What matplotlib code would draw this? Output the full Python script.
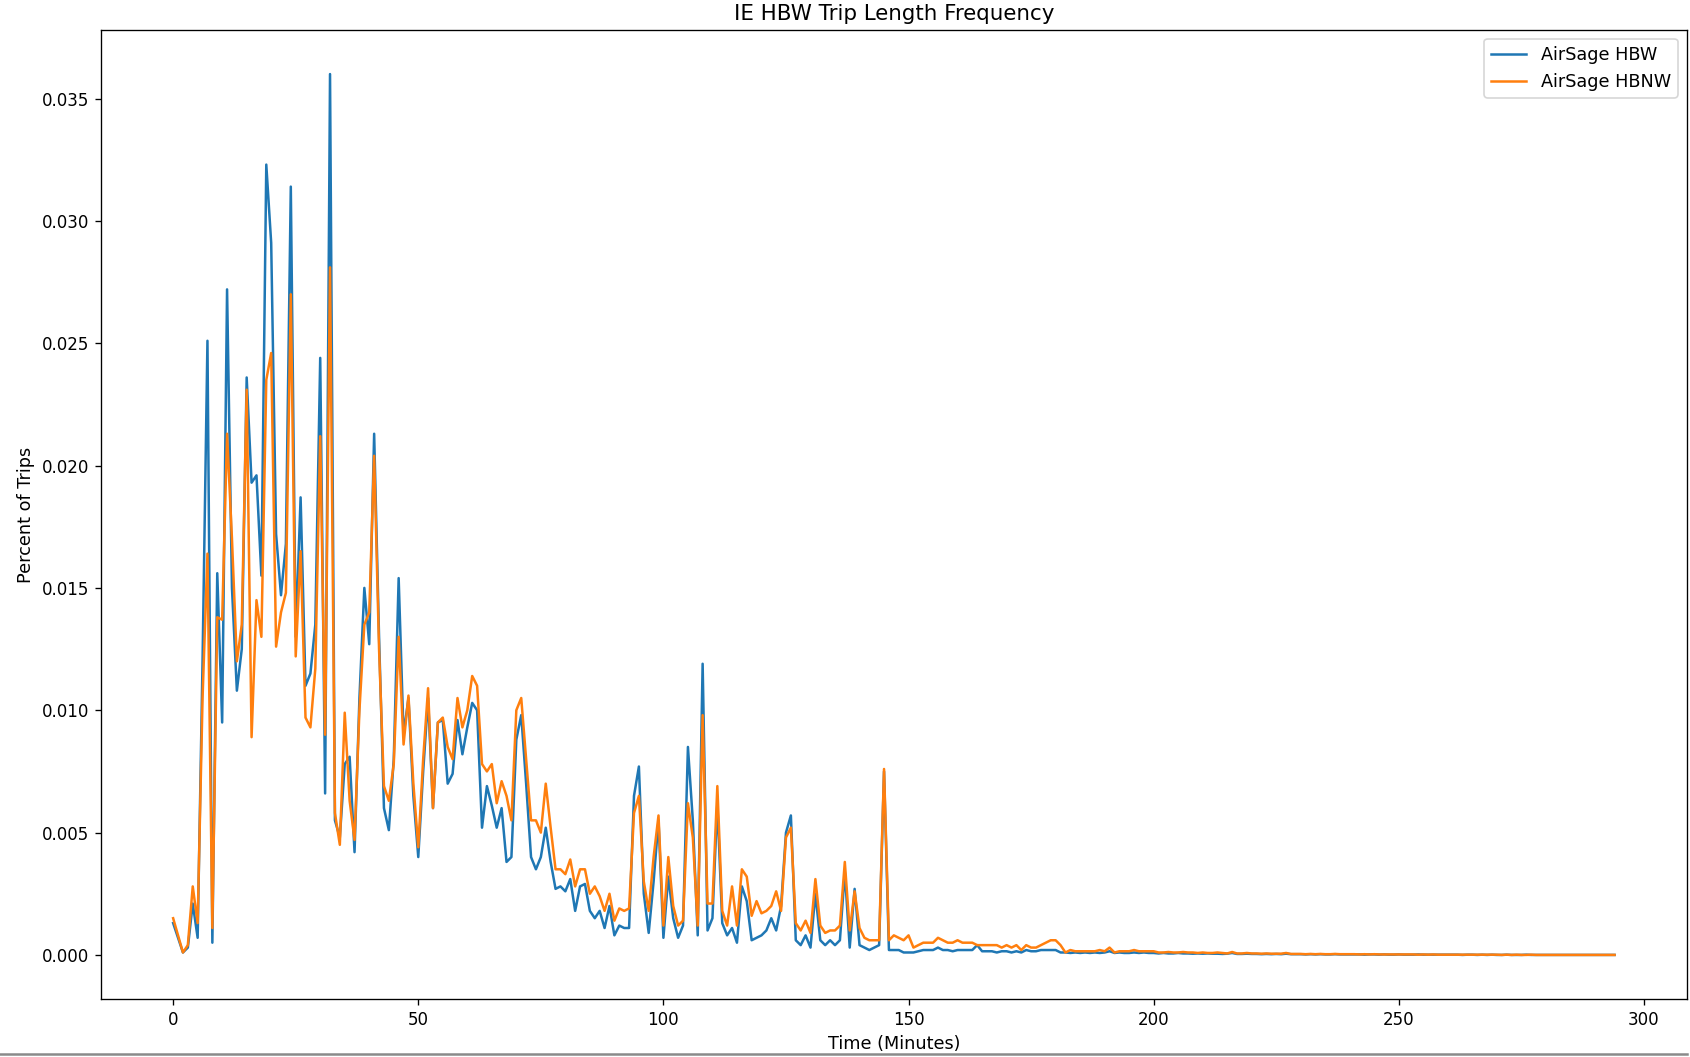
import matplotlib
matplotlib.use('Agg')
import matplotlib.pyplot as plt
from matplotlib.lines import Line2D

# share of trips per minute of travel time
hbw = [
    0.0013, 0.0007, 0.0001, 0.0003, 0.0021, 0.0007, 0.0120, 0.0251, 0.0005, 0.0156,
    0.0095, 0.0272, 0.0150, 0.0108, 0.0125, 0.0236, 0.0193, 0.0196, 0.0155, 0.0323,
    0.0291, 0.0172, 0.0147, 0.0168, 0.0314, 0.0130, 0.0187, 0.0110, 0.0115, 0.0135,
    0.0244, 0.0066, 0.0360, 0.0055, 0.0048, 0.0078, 0.0081, 0.0042, 0.0105, 0.0150,
    0.0127, 0.0213, 0.0130, 0.0060, 0.0051, 0.0080, 0.0154, 0.0090, 0.0105, 0.0065,
    0.0040, 0.0075, 0.0105, 0.0060, 0.0095, 0.0096, 0.0070, 0.0074, 0.0096, 0.0082,
    0.0093, 0.0103, 0.0100, 0.0052, 0.0069, 0.0061, 0.0052, 0.0060, 0.0038, 0.0040,
    0.0088, 0.0098, 0.0070, 0.0040, 0.0035, 0.0040, 0.0052, 0.0038, 0.0027, 0.0028,
    0.0026, 0.0031, 0.0018, 0.0028, 0.0029, 0.0018, 0.0015, 0.0018, 0.0011, 0.0020,
    0.0008, 0.0012, 0.0011, 0.0011, 0.0065, 0.0077, 0.0025, 0.0009, 0.0030, 0.0055,
    0.0007, 0.0032, 0.0015, 0.0007, 0.0012, 0.0085, 0.0055, 0.0008, 0.0119, 0.0010,
    0.0015, 0.0062, 0.0013, 0.0008, 0.0011, 0.0005, 0.0028, 0.0022, 0.0006, 0.0007,
    0.0008, 0.0010, 0.0015, 0.0010, 0.0020, 0.0050, 0.0057, 0.0006, 0.0004, 0.0008,
    0.0003, 0.0025, 0.0006, 0.0004, 0.0006, 0.0004, 0.0006, 0.0034, 0.0003, 0.0027,
    0.0004, 0.0003, 0.0002, 0.0003, 0.0004, 0.0075, 0.0002, 0.0002, 0.0002, 0.0001,
    0.0001, 0.0001, 0.00015, 0.0002, 0.0002, 0.0002, 0.0003, 0.0002, 0.0002, 0.00015,
    0.0002, 0.0002, 0.0002, 0.0002, 0.0004, 0.00015, 0.00015, 0.00015, 0.0001, 0.00015,
    0.00015, 0.0001, 0.00015, 0.0001, 0.0002, 0.00015, 0.00015, 0.0002, 0.0002, 0.0002,
    0.0002, 0.0001, 0.0001, 0.00008, 0.0001, 0.00008, 0.0001, 0.00008, 0.0001, 0.00008,
    0.0001, 0.00015, 0.00008, 0.0001, 0.00008, 0.00008, 0.0001, 0.00008, 0.0001, 0.00008,
    0.00008, 0.00006, 0.00008, 0.00006, 0.00006, 0.00008, 0.00006, 0.00006, 0.00005, 0.00006,
    0.00005, 0.00006, 0.00005, 0.00005, 0.00004, 0.00005, 0.00008, 0.00004, 0.00004, 0.00005,
    0.00004, 0.00004, 0.00003, 0.00004, 0.00003, 0.00004, 0.00003, 0.00005, 0.00003, 0.00003,
    0.00003, 0.00002, 0.00003, 0.00002, 0.00003, 0.00002, 0.00002, 0.00003, 0.00002, 0.00002,
    0.00002, 0.00002, 0.00002, 0.00001, 0.00002, 0.00002, 0.00001, 0.00002, 0.00001, 0.00001,
    0.00002, 0.00001, 0.00001, 0.00001, 0.00002, 0.00001, 0.00001, 0.00001, 0.00001, 0.00001,
    0.00001, 0.00001, 0.00001, 0.0, 0.00001, 0.00001, 0.0, 0.00001, 0.0, 0.00001,
    0.0, 0.0, 0.00001, 0.0, 0.0, 0.0, 0.00001, 0.0, 0.0, 0.0,
    0.0, 0.0, 0.0, 0.0, 0.0, 0.0, 0.0, 0.0, 0.0, 0.0,
    0.0, 0.0, 0.0, 0.0, 0.0,
]

hbnw = [
    0.0015, 0.0008, 0.0001, 0.0004, 0.0028, 0.0013, 0.0105, 0.0164, 0.0011, 0.0138,
    0.0137, 0.0213, 0.0170, 0.0120, 0.0135, 0.0231, 0.0089, 0.0145, 0.0130, 0.0235,
    0.0246, 0.0126, 0.0140, 0.0148, 0.0270, 0.0122, 0.0165, 0.0097, 0.0093, 0.0117,
    0.0212, 0.0090, 0.0281, 0.0058, 0.0045, 0.0099, 0.0063, 0.0047, 0.0100, 0.0135,
    0.0140, 0.0204, 0.0125, 0.0069, 0.0063, 0.0078, 0.0130, 0.0086, 0.0106, 0.0070,
    0.0044, 0.0080, 0.0109, 0.0060, 0.0095, 0.0097, 0.0085, 0.0080, 0.0105, 0.0093,
    0.0100, 0.0114, 0.0110, 0.0078, 0.0075, 0.0078, 0.0062, 0.0071, 0.0065, 0.0055,
    0.0100, 0.0105, 0.0080, 0.0055, 0.0055, 0.0050, 0.0070, 0.0052, 0.0035, 0.0035,
    0.0033, 0.0039, 0.0028, 0.0035, 0.0035, 0.0025, 0.0028, 0.0024, 0.0018, 0.0025,
    0.0014, 0.0019, 0.0018, 0.0019, 0.0058, 0.0065, 0.0030, 0.0018, 0.0040, 0.0057,
    0.0012, 0.0040, 0.0020, 0.0012, 0.0014, 0.0062, 0.0048, 0.0012, 0.0098, 0.0021,
    0.0021, 0.0069, 0.0018, 0.0012, 0.0028, 0.0012, 0.0035, 0.0032, 0.0016, 0.0022,
    0.0017, 0.0018, 0.0020, 0.0026, 0.0018, 0.0048, 0.0052, 0.0013, 0.0010, 0.0014,
    0.0009, 0.0031, 0.0012, 0.0009, 0.0010, 0.0010, 0.0012, 0.0038, 0.0010, 0.0026,
    0.0011, 0.0007, 0.0006, 0.0006, 0.0006, 0.0076, 0.0006, 0.0008, 0.0007, 0.0006,
    0.0008, 0.0003, 0.0004, 0.0005, 0.0005, 0.0005, 0.0007, 0.0006, 0.0005, 0.0005,
    0.0006, 0.0005, 0.0005, 0.0005, 0.0004, 0.0004, 0.0004, 0.0004, 0.0004, 0.0003,
    0.0004, 0.0003, 0.0004, 0.0002, 0.0004, 0.0003, 0.0003, 0.0004, 0.0005, 0.0006,
    0.0006, 0.0004, 0.0001, 0.0002, 0.00015, 0.00015, 0.00015, 0.00015, 0.00015, 0.0002,
    0.00015, 0.0003, 0.0001, 0.00015, 0.00015, 0.00015, 0.0002, 0.00015, 0.00015, 0.00015,
    0.00015, 0.0001, 0.0001, 0.00012, 0.0001, 0.0001, 0.00012, 0.0001, 0.0001, 0.00008,
    0.0001, 0.00008, 0.00008, 0.0001, 0.00008, 0.00006, 0.00012, 0.00006, 0.00006, 0.00008,
    0.00006, 0.00006, 0.00005, 0.00006, 0.00005, 0.00005, 0.00005, 0.00008, 0.00004, 0.00004,
    0.00004, 0.00003, 0.00004, 0.00003, 0.00004, 0.00003, 0.00003, 0.00004, 0.00003, 0.00003,
    0.00003, 0.00003, 0.00002, 0.00003, 0.00002, 0.00003, 0.00002, 0.00002, 0.00002, 0.00002,
    0.00002, 0.00002, 0.00002, 0.00002, 0.00001, 0.00002, 0.00001, 0.00002, 0.00001, 0.00001,
    0.00001, 0.00001, 0.00001, 0.00001, 0.00001, 0.00001, 0.00001, 0.00001, 0.00001, 0.00001,
    0.00001, 0.0, 0.00001, 0.0, 0.00001, 0.0, 0.0, 0.00001, 0.0, 0.0,
    0.0, 0.0, 0.0, 0.0, 0.0, 0.0, 0.0, 0.0, 0.0, 0.0,
    0.0, 0.0, 0.0, 0.0, 0.0,
]

minutes = list(range(len(hbw)))

fig = plt.figure(figsize=(1690 / 120, 1057 / 120), dpi=120)
ax = fig.add_axes([0.0598, 0.0549, 0.9382, 0.9167])

ax.plot(minutes, hbw, label='AirSage HBW')
ax.plot(minutes, hbnw, label='AirSage HBNW')

ax.set_title('IE HBW Trip Length Frequency', fontsize=12.8)
ax.set_xlabel('Time (Minutes)', fontsize=10.6, labelpad=4)
ax.set_ylabel('Percent of Trips', fontsize=10.6)
ax.legend(loc='upper right', fontsize=10.6)

# grey frame line of the notebook cell under the chart
fig.add_artist(Line2D([0, 0.998], [0.0028, 0.0028], transform=fig.transFigure,
                      color='#8a8a8a', lw=1.5))

fig.savefig('out.png', dpi=120)
